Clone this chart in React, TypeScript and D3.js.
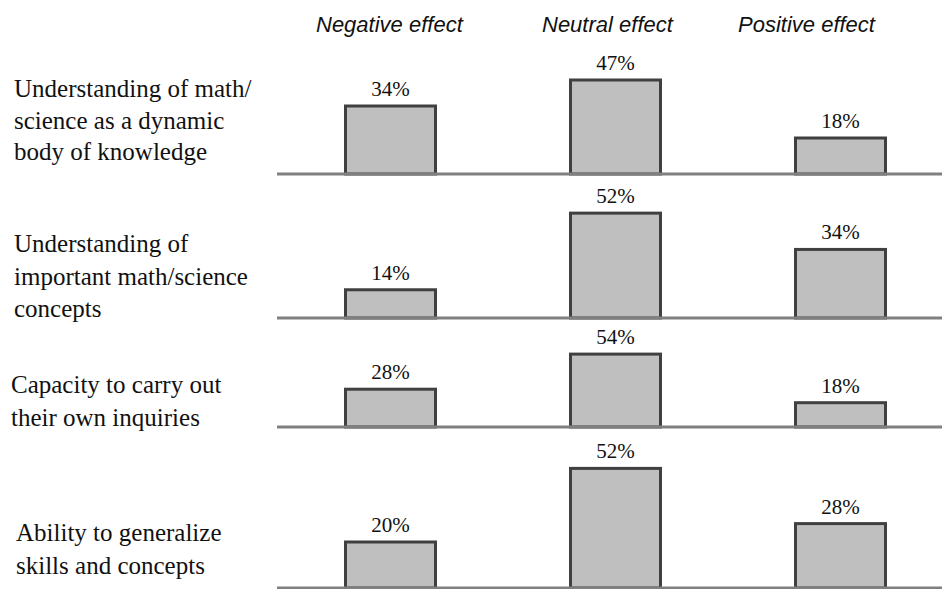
import React from "react";
import * as d3 from "d3";

// Effect categories (column headers) and the four outcome items (row labels)
const effects = ["Negative effect", "Neutral effect", "Positive effect"];
const itemLabels: string[][] = [
  ["Understanding of math/", "science as a dynamic", "body of knowledge"],
  ["Understanding of", "important math/science", "concepts"],
  ["Capacity to carry out", "their own inquiries"],
  ["Ability to generalize", "skills and concepts"],
];

// Percent of respondents per item
const negativeValues = [34, 14, 28, 20];
const neutralValues = [47, 52, 54, 52];
const positiveValues = [18, 34, 18, 28];

// Panel layout: baseline y, pixel height of the 0–60% range, label placement
const panelBaseline = [174, 318, 427, 588];
const panelHeight = [120, 121, 81, 138];
const labelX = [14, 14, 11, 16];
const labelFirstBaseline = [97, 252, 393, 541];
const labelLineGap = [31.5, 32.5, 33.3, 33.3];
const headerX = [316, 542, 738];

const W = 942;
const H = 589;

export default function App() {
  const x = d3
    .scaleBand<string>()
    .domain(effects)
    .range([278, 953])
    .paddingInner(0.6)
    .paddingOuter(0.3);

  const series = [negativeValues, neutralValues, positiveValues];

  return (
    <svg
      width={W}
      height={H}
      style={{ position: "absolute", left: 0, top: 0, background: "#fff" }}
    >
      {effects.map((e, i) => (
        <text
          key={e}
          x={headerX[i]}
          y={32}
          fontFamily="'Liberation Sans', Arial, sans-serif"
          fontStyle="italic"
          fontSize={22}
          fill="#111"
        >
          {e}
        </text>
      ))}

      {itemLabels.map((lines, p) => {
        const y = d3
          .scaleLinear()
          .domain([0, 60])
          .range([panelBaseline[p], panelBaseline[p] - panelHeight[p]]);
        return (
          <g key={p}>
            {lines.map((ln, k) => (
              <text
                key={k}
                x={labelX[p]}
                y={labelFirstBaseline[p] + k * labelLineGap[p]}
                fontFamily="'Liberation Serif', 'Times New Roman', serif"
                fontSize={25}
                fill="#111"
              >
                {ln}
              </text>
            ))}
            {effects.map((e, i) => {
              const v = series[i][p];
              const x0 = x(e)!;
              return (
                <g key={e}>
                  <rect
                    x={x0}
                    y={y(v)}
                    width={x.bandwidth()}
                    height={y(0) - y(v)}
                    fill="#bfbfbf"
                    stroke="#404040"
                    strokeWidth={3}
                  />
                  <text
                    x={x0 + x.bandwidth() / 2}
                    y={y(v) - 10}
                    textAnchor="middle"
                    fontFamily="'Liberation Serif', 'Times New Roman', serif"
                    fontSize={21}
                    fill="#111"
                  >
                    {v}%
                  </text>
                </g>
              );
            })}
            <line
              x1={277}
              x2={W}
              y1={panelBaseline[p]}
              y2={panelBaseline[p]}
              stroke="#808080"
              strokeWidth={3}
            />
          </g>
        );
      })}
    </svg>
  );
}
